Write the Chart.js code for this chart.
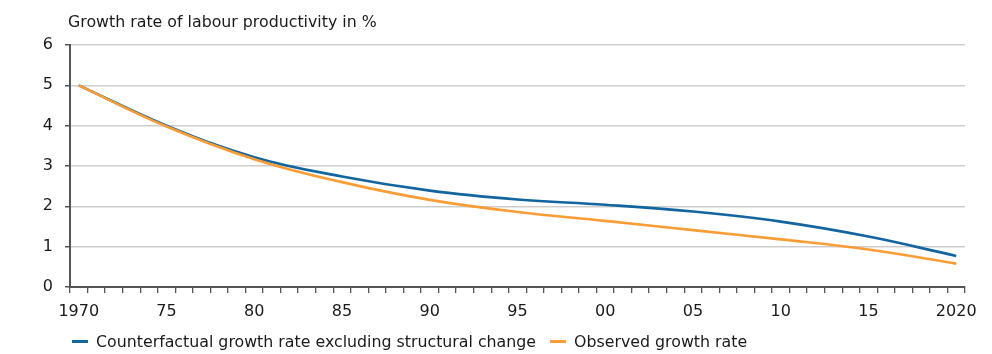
<!DOCTYPE html>
<html>
<head>
<meta charset="utf-8">
<script src="https://cdn.jsdelivr.net/npm/chart.js@4.4.0/dist/chart.umd.min.js"></script>
<style>
  body { margin: 0; background: #fff; }
  #wrap { position: relative; width: 992px; height: 354px; font-family: "DejaVu Sans", sans-serif; color: #1a1a1a; }
  #title { position: absolute; left: 68px; top: 12px; font-size: 15.8px; }
  #legend { position: absolute; left: 72px; top: 332px; font-size: 15.8px; white-space: nowrap; }
  .item { display: inline-block; margin-right: 14px; }
  .swatch { display: inline-block; width: 16px; height: 2.5px; vertical-align: middle; margin-right: 8px; position: relative; top: -1px; }
</style>
</head>
<body>
<div id="wrap">
  <canvas id="myChart" width="992" height="354"></canvas>
  <div id="title">Growth rate of labour productivity in %</div>
  <div id="legend"></div>
</div>
<script>
// x axis: one category per year, labelled every five years
const tickLabels = ['1970', '75', '80', '85', '90', '95', '00', '05', '10', '15', '2020'];
const years = [1970, 1975, 1980, 1985, 1990, 1995, 2000, 2005, 2010, 2015, 2020];

// values (% per year)
const counterfactual = [5.0, 4.0, 3.22, 2.74, 2.39, 2.17, 2.04, 1.87, 1.62, 1.25, 0.77];
const observed = [5.0, 3.98, 3.17, 2.60, 2.16, 1.86, 1.64, 1.41, 1.18, 0.93, 0.58];

const seriesNames = ['Counterfactual growth rate excluding structural change', 'Observed growth rate'];
const colors = ['#13659f', '#fb9d36'];

var categories = [];
for (var y = years[0]; y <= years[years.length - 1]; y++) categories.push(String(y));

function toPoints(vals) {
  return years.map(function (yr, i) { return { x: String(yr), y: vals[i] }; });
}

const data = {
  labels: categories,
  datasets: [
    {
      label: seriesNames[0],
      data: toPoints(counterfactual),
      borderColor: colors[0],
      borderWidth: 2.6,
      pointRadius: 0,
      tension: 0.4,
      order: 1
    },
    {
      label: seriesNames[1],
      data: toPoints(observed),
      borderColor: colors[1],
      borderWidth: 2.6,
      pointRadius: 0,
      tension: 0.4,
      order: 0
    }
  ]
};

const tickFont = { family: '"DejaVu Sans", sans-serif', size: 16 };

const config = {
  type: 'line',
  data: data,
  options: {
    responsive: false,
    animation: false,
    layout: { padding: { left: 30, right: 27, top: 45, bottom: 37 } },
    plugins: { legend: { display: false }, tooltip: { enabled: false } },
    scales: {
      x: {
        type: 'category',
        offset: true,
        afterFit: function (s) { s.height = 30; },
        grid: { offset: true, drawOnChartArea: false, tickLength: 6, color: '#555', lineWidth: 1.3 },
        border: { color: '#555', width: 2 },
        ticks: {
          autoSkip: false, maxRotation: 0, padding: 9, color: '#1a1a1a', font: tickFont,
          callback: function (val, i) { return i % 5 === 0 ? tickLabels[i / 5] : ''; }
        }
      },
      y: {
        min: 0, max: 6,
        afterFit: function (s) { s.width = 40; },
        grid: { color: '#cdcdcd', lineWidth: 1.5, tickLength: 5, tickColor: '#555' },
        border: { color: '#555', width: 2 },
        ticks: { stepSize: 1, padding: 12, color: '#1a1a1a', font: tickFont }
      }
    }
  }
};

var myChart = new Chart(document.getElementById('myChart'), config);

// legend below the chart
var leg = document.getElementById('legend');
seriesNames.forEach(function (name, i) {
  var item = document.createElement('span');
  item.className = 'item';
  item.innerHTML = '<span class="swatch" style="background:' + colors[i] + '"></span>' + name;
  leg.appendChild(item);
});
</script>
</body>
</html>
